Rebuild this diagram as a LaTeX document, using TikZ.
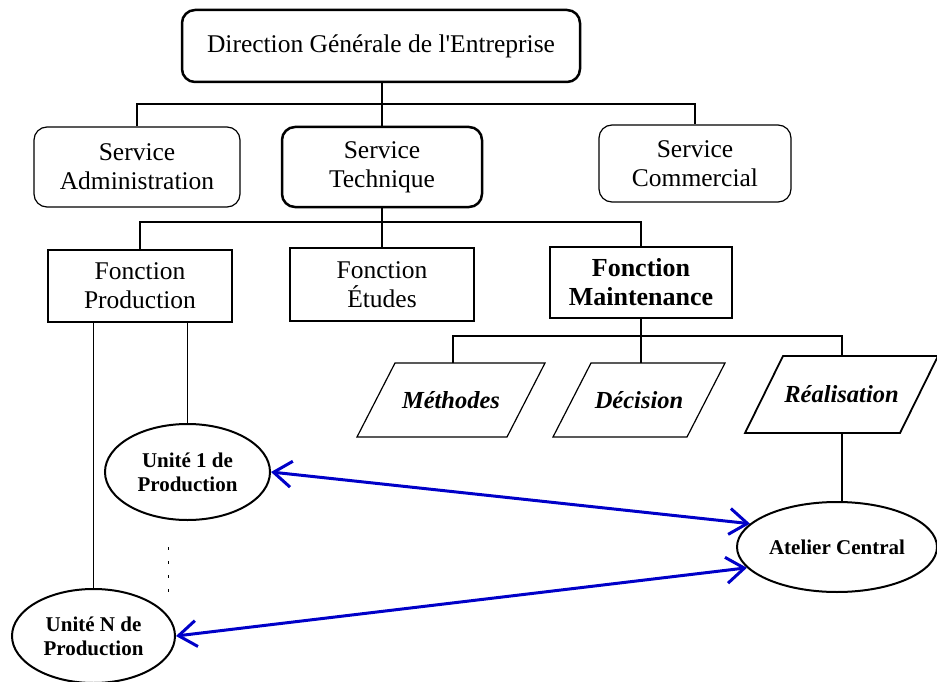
\documentclass[tikz,border=0pt]{standalone}
\usepackage{fontspec}
\setmainfont{Liberation Serif}
\usetikzlibrary{shapes.geometric,arrows.meta}

\definecolor{linkblue}{RGB}{0,0,200}
% straight apostrophe, without the TeX quote mapping
\newcommand{\straightapos}{{\addfontfeatures{Ligatures=TeXOff}'}}

\begin{document}
\begin{tikzpicture}[x=1pt,y=-1pt,
  conn/.style={line width=1.2pt},
  box/.style={draw, line width=1.2pt, align=center, inner sep=0pt,
    font=\fontsize{25.5}{29}\selectfont},
  thickbox/.style={box, line width=2.5pt},
  roundbox/.style={rounded corners=13pt},
  boldtext/.style={font=\bfseries\fontsize{26}{29}\selectfont},
  paratext/.style={inner sep=0pt, font=\bfseries\itshape\fontsize{24.5}{28}\selectfont},
  parabox/.style={draw, line width=1.2pt, line join=miter},
  unit/.style={draw, ellipse, line width=2pt, inner sep=0pt, align=center,
    font=\bfseries\fontsize{21}{24}\selectfont},
  exchange/.style={draw=linkblue, line width=3pt,
    arrows={Straight Barb[length=18pt,width=26pt]-Straight Barb[length=18pt,width=26pt]}},
  ellipsis/.style={line width=1pt, dash pattern=on 2.5pt off 11.5pt}
]
\useasboundingbox (0,0) rectangle (937,682);

% top level
\node[thickbox, roundbox, minimum width=398pt, minimum height=72pt] (dg) at (381,46)
  {Direction Générale de l\straightapos Entreprise};

% services
\node[box, roundbox, minimum width=206pt, minimum height=80pt] (sa) at (137,167)
  {Service\\Administration};
\node[thickbox, roundbox, minimum width=200pt, minimum height=80pt] (st) at (382,167)
  {Service\\Technique};
\node[box, roundbox, minimum width=192pt, minimum height=77pt] (sc) at (695,163.5)
  {Service\\Commercial};

% functions of the technical service
\node[box, minimum width=184pt, minimum height=72pt] (fp) at (140,286)
  {Fonction\\Production};
\node[box, minimum width=184pt, minimum height=73pt] (fe) at (382,284.5)
  {Fonction\\Études};
\node[thickbox, boldtext, minimum width=182pt, minimum height=71pt] (fm) at (641,282.5)
  {Fonction\\Maintenance};

% maintenance cells (parallelograms)
\draw[parabox] (357,437) -- (395,363) -- (545,363) -- (507,437) -- cycle;
\node[paratext] (meth) at (451,400) {Méthodes};
\draw[parabox] (553,437) -- (591,363) -- (725,363) -- (687,437) -- cycle;
\node[paratext] (dec) at (639,400) {Décision};
\draw[parabox, line width=1.8pt] (745,433) -- (783,356) -- (938,356) -- (900,433) -- cycle;
\node[paratext] (real) at (841.5,394.5) {Réalisation};
\coordinate (methtop) at (453,363);
\coordinate (dectop) at (641,363);
\coordinate (realtop) at (842,356);
\coordinate (realbot) at (842,433);

% production units and central workshop
\node[unit, minimum width=165pt, minimum height=96pt] (u1) at (187.5,472)
  {Unité 1 de\\Production};
\node[unit, minimum width=163pt, minimum height=94pt] (un) at (93.5,636)
  {Unité N de\\Production};
\node[unit, minimum width=200pt, minimum height=90pt] (ac) at (837,547)
  {Atelier Central};

% hierarchy connectors
\draw[conn] (dg.south -| st.north) -- (st.north);
\draw[conn] (sa.north) |- (st.north |- 0,104) -| (sc.north);
\draw[conn] (st.south) -- (fe.north);
\draw[conn] (fp.north) |- (st.south |- 0,222) -| (fm.north);
\draw[conn] (fm.south) -- (dectop);
\draw[conn] (methtop) |- (fm.south |- 0,336) -| (realtop);
\draw[conn] (fp.south -| un.north) -- (un.north);
\draw[conn] (fp.south -| u1.north) -- (u1.north);
\draw[conn] (realbot) -- (ac.north -| realbot);

% intermediate units
\coordinate (dots top) at (168,547);
\coordinate (dots bottom) at (168,592);
\draw[ellipsis] (dots top) -- (dots bottom);

% exchanges with the central workshop
\draw[exchange] (u1.east) -- (ac.165);
\draw[exchange] (un.east) -- (ac.193);
\end{tikzpicture}
\end{document}
